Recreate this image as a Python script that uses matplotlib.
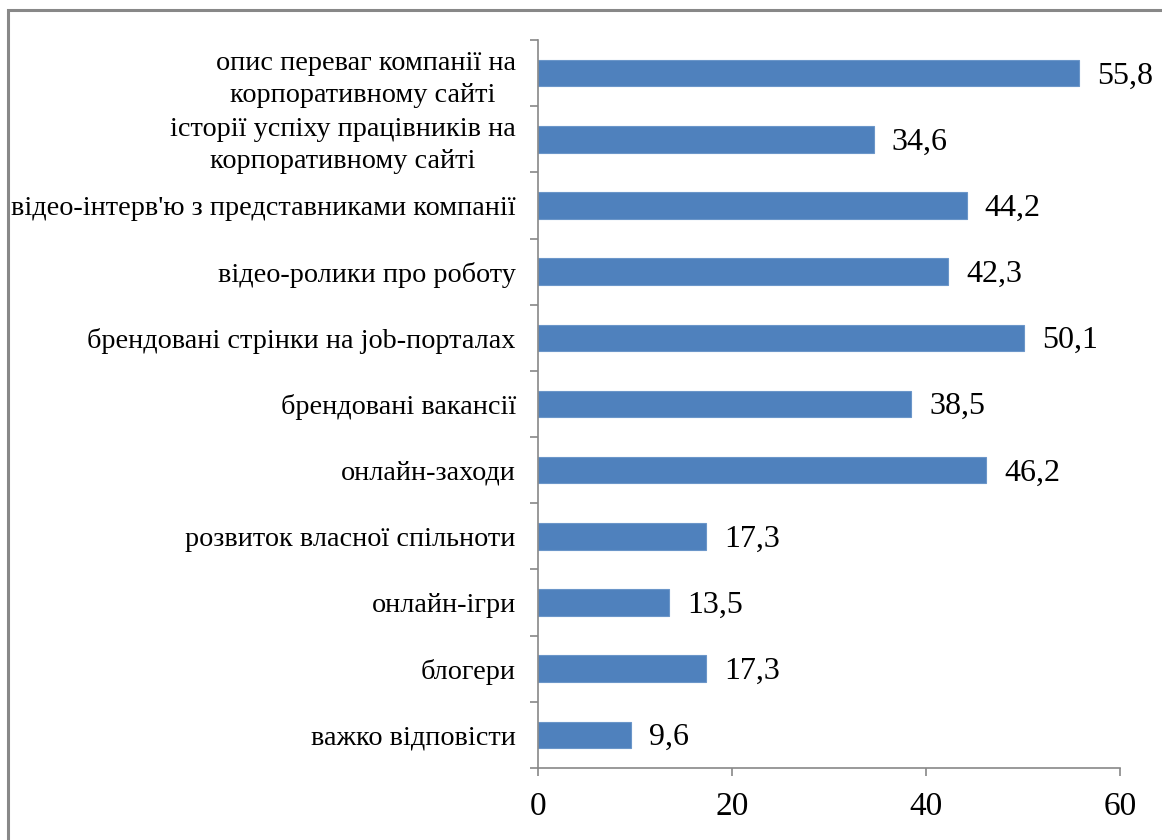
import matplotlib
matplotlib.use("Agg")
import matplotlib.pyplot as plt
from matplotlib.patches import Rectangle

categories = [
    "опис переваг компанії на\nкорпоративному сайті ",
    "історії успіху працівників на\nкорпоративному сайті",
    "відео-інтерв'ю з представниками компанії",
    "відео-ролики про роботу",
    "брендовані стрінки на job-порталах",
    "брендовані вакансії",
    "онлайн-заходи",
    "розвиток власної спільноти",
    "онлайн-ігри",
    "блогери",
    "важко відповісти",
]
values = [55.8, 34.6, 44.2, 42.3, 50.1, 38.5, 46.2, 17.3, 13.5, 17.3, 9.6]
value_labels = ["55,8", "34,6", "44,2", "42,3", "50,1", "38,5", "46,2", "17,3", "13,5", "17,3", "9,6"]
xticks = [0, 20, 40, 60]

plt.rcParams['font.family'] = ['Liberation Serif', 'DejaVu Serif']

fig = plt.figure(figsize=(11.62, 8.40), dpi=100)
ax = fig.add_axes([538/1162, 1-768/840, (1120-538)/1162, (768-40)/840])

n = len(categories)
ypos = list(range(n))
ax.barh(ypos, values, height=0.4, color="#4F81BD", edgecolor="#6B96C9", linewidth=0.8)
ax.set_ylim(n - 0.5, -0.5)
ax.set_xlim(0, 60)

ax.set_yticks(ypos)
ax.set_yticklabels(categories, fontsize=20.3)
ax.tick_params(axis='y', length=0, pad=16)
ax.set_yticks([i - 0.5 for i in range(n + 1)], minor=True)
ax.tick_params(axis='y', which='minor', length=6, color='#888888', width=1.2, direction='out')

ax.set_xticks(xticks)
ax.set_xticklabels([str(t) for t in xticks], fontsize=24)
ax.tick_params(axis='x', length=6, color='#888888', width=1.2, direction='out', pad=11)

for s in ['top', 'right']:
    ax.spines[s].set_visible(False)
for s in ['left', 'bottom']:
    ax.spines[s].set_color('#888888')
    ax.spines[s].set_linewidth(1.2)

for y, v, lab in zip(ypos, values, value_labels):
    ax.annotate(lab, (v, y), xytext=(13, -2), textcoords='offset points',
                va='center', ha='left', fontsize=23)

fig.canvas.draw()
for t in ax.yaxis.get_majorticklabels():
    t.set_multialignment('center')
    t.set_linespacing(1.35)

# outer frame
fig.patches.append(Rectangle((8/1162, -0.01), 1.2, 1 - 10/840 + 0.01, transform=fig.transFigure,
                             fill=False, edgecolor='#888888', linewidth=2.2))

fig.savefig("out.png", dpi=100)
